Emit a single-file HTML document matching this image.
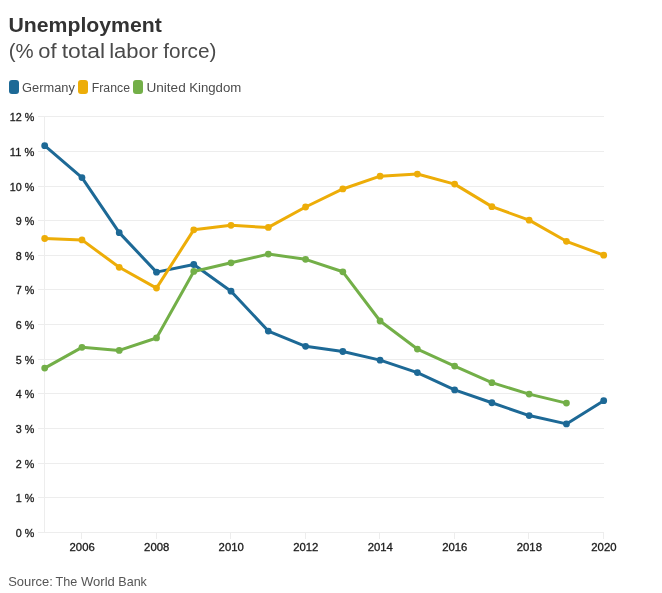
<!DOCTYPE html>
<html><head><meta charset="utf-8"><title>Unemployment</title>
<style>html,body{margin:0;padding:0;background:#fff}svg{display:block;will-change:transform}text{font-family:"Liberation Sans",sans-serif}</style></head><body>
<svg width="662" height="593" viewBox="0 0 662 593">
<rect width="662" height="593" fill="#fff"/>
<text y="31.7" font-size="20" font-weight="bold" fill="#333"><tspan x="8.47" textLength="153.36" lengthAdjust="spacingAndGlyphs">Unemployment</tspan></text>
<text y="57.6" font-size="20" fill="#4a4a4a"><tspan x="8.73" textLength="24.89" lengthAdjust="spacingAndGlyphs">(%</tspan> <tspan x="38.34" textLength="18.29" lengthAdjust="spacingAndGlyphs">of</tspan> <tspan x="61.71" textLength="43.29" lengthAdjust="spacingAndGlyphs">total</tspan> <tspan x="109.19" textLength="49.01" lengthAdjust="spacingAndGlyphs">labor</tspan> <tspan x="163.34" textLength="53.06" lengthAdjust="spacingAndGlyphs">force)</tspan></text>
<text y="91.6" font-size="12" fill="#4d4d4d"><tspan x="22.13" textLength="52.79" lengthAdjust="spacingAndGlyphs">Germany</tspan></text>
<text y="91.6" font-size="12" fill="#4d4d4d"><tspan x="91.78" textLength="38.22" lengthAdjust="spacingAndGlyphs">France</tspan></text>
<text y="91.6" font-size="12" fill="#4d4d4d"><tspan x="146.41" textLength="39.31" lengthAdjust="spacingAndGlyphs">United</tspan> <tspan x="189.2" textLength="52.13" lengthAdjust="spacingAndGlyphs">Kingdom</tspan></text>
<text y="585.6" font-size="12.6" fill="#555"><tspan x="8.16" textLength="44.63" lengthAdjust="spacingAndGlyphs">Source:</tspan> <tspan x="55.55" textLength="21.73" lengthAdjust="spacingAndGlyphs">The</tspan> <tspan x="80.97" textLength="33.86" lengthAdjust="spacingAndGlyphs">World</tspan> <tspan x="118.3" textLength="28.59" lengthAdjust="spacingAndGlyphs">Bank</tspan></text>
<rect x="9" y="80" width="10" height="14" rx="3" fill="#1d6996"/>
<rect x="78" y="80" width="10" height="14" rx="3" fill="#edad08"/>
<rect x="133" y="80" width="10" height="14" rx="3" fill="#73af48"/>
<line x1="38" x2="604" y1="532.50" y2="532.50" stroke="#ededed" stroke-width="1" shape-rendering="crispEdges"/>
<text x="15.799999999999997" y="537.00" font-size="10.6" fill="#1c1c1c" stroke="#1c1c1c" stroke-width="0.3" textLength="18.5" lengthAdjust="spacingAndGlyphs">0 %</text>
<line x1="38" x2="604" y1="497.50" y2="497.50" stroke="#ededed" stroke-width="1" shape-rendering="crispEdges"/>
<text x="15.799999999999997" y="502.00" font-size="10.6" fill="#1c1c1c" stroke="#1c1c1c" stroke-width="0.3" textLength="18.5" lengthAdjust="spacingAndGlyphs">1 %</text>
<line x1="38" x2="604" y1="463.50" y2="463.50" stroke="#ededed" stroke-width="1" shape-rendering="crispEdges"/>
<text x="15.799999999999997" y="468.00" font-size="10.6" fill="#1c1c1c" stroke="#1c1c1c" stroke-width="0.3" textLength="18.5" lengthAdjust="spacingAndGlyphs">2 %</text>
<line x1="38" x2="604" y1="428.50" y2="428.50" stroke="#ededed" stroke-width="1" shape-rendering="crispEdges"/>
<text x="15.799999999999997" y="433.00" font-size="10.6" fill="#1c1c1c" stroke="#1c1c1c" stroke-width="0.3" textLength="18.5" lengthAdjust="spacingAndGlyphs">3 %</text>
<line x1="38" x2="604" y1="393.50" y2="393.50" stroke="#ededed" stroke-width="1" shape-rendering="crispEdges"/>
<text x="15.799999999999997" y="398.00" font-size="10.6" fill="#1c1c1c" stroke="#1c1c1c" stroke-width="0.3" textLength="18.5" lengthAdjust="spacingAndGlyphs">4 %</text>
<line x1="38" x2="604" y1="359.50" y2="359.50" stroke="#ededed" stroke-width="1" shape-rendering="crispEdges"/>
<text x="15.799999999999997" y="364.00" font-size="10.6" fill="#1c1c1c" stroke="#1c1c1c" stroke-width="0.3" textLength="18.5" lengthAdjust="spacingAndGlyphs">5 %</text>
<line x1="38" x2="604" y1="324.50" y2="324.50" stroke="#ededed" stroke-width="1" shape-rendering="crispEdges"/>
<text x="15.799999999999997" y="329.00" font-size="10.6" fill="#1c1c1c" stroke="#1c1c1c" stroke-width="0.3" textLength="18.5" lengthAdjust="spacingAndGlyphs">6 %</text>
<line x1="38" x2="604" y1="289.50" y2="289.50" stroke="#ededed" stroke-width="1" shape-rendering="crispEdges"/>
<text x="15.799999999999997" y="294.00" font-size="10.6" fill="#1c1c1c" stroke="#1c1c1c" stroke-width="0.3" textLength="18.5" lengthAdjust="spacingAndGlyphs">7 %</text>
<line x1="38" x2="604" y1="255.50" y2="255.50" stroke="#ededed" stroke-width="1" shape-rendering="crispEdges"/>
<text x="15.799999999999997" y="260.00" font-size="10.6" fill="#1c1c1c" stroke="#1c1c1c" stroke-width="0.3" textLength="18.5" lengthAdjust="spacingAndGlyphs">8 %</text>
<line x1="38" x2="604" y1="220.50" y2="220.50" stroke="#ededed" stroke-width="1" shape-rendering="crispEdges"/>
<text x="15.799999999999997" y="225.00" font-size="10.6" fill="#1c1c1c" stroke="#1c1c1c" stroke-width="0.3" textLength="18.5" lengthAdjust="spacingAndGlyphs">9 %</text>
<line x1="38" x2="604" y1="186.50" y2="186.50" stroke="#ededed" stroke-width="1" shape-rendering="crispEdges"/>
<text x="9.799999999999997" y="191.00" font-size="10.6" fill="#1c1c1c" stroke="#1c1c1c" stroke-width="0.3" textLength="24.5" lengthAdjust="spacingAndGlyphs">10 %</text>
<line x1="38" x2="604" y1="151.50" y2="151.50" stroke="#ededed" stroke-width="1" shape-rendering="crispEdges"/>
<text x="9.799999999999997" y="156.00" font-size="10.6" fill="#1c1c1c" stroke="#1c1c1c" stroke-width="0.3" textLength="24.5" lengthAdjust="spacingAndGlyphs">11 %</text>
<line x1="38" x2="604" y1="116.50" y2="116.50" stroke="#ededed" stroke-width="1" shape-rendering="crispEdges"/>
<text x="9.799999999999997" y="121.00" font-size="10.6" fill="#1c1c1c" stroke="#1c1c1c" stroke-width="0.3" textLength="24.5" lengthAdjust="spacingAndGlyphs">12 %</text>
<line x1="44.5" x2="44.5" y1="116" y2="533" stroke="#ededed" stroke-width="1" shape-rendering="crispEdges"/>
<line x1="81.77" x2="81.77" y1="532" y2="538.5" stroke="#ededed" stroke-width="1" shape-rendering="crispEdges"/>
<text x="69.57" y="550.8" font-size="10.6" fill="#1c1c1c" stroke="#1c1c1c" stroke-width="0.3" textLength="25.2" lengthAdjust="spacingAndGlyphs">2006</text>
<line x1="156.30" x2="156.30" y1="532" y2="538.5" stroke="#ededed" stroke-width="1" shape-rendering="crispEdges"/>
<text x="144.10" y="550.8" font-size="10.6" fill="#1c1c1c" stroke="#1c1c1c" stroke-width="0.3" textLength="25.2" lengthAdjust="spacingAndGlyphs">2008</text>
<line x1="230.83" x2="230.83" y1="532" y2="538.5" stroke="#ededed" stroke-width="1" shape-rendering="crispEdges"/>
<text x="218.63" y="550.8" font-size="10.6" fill="#1c1c1c" stroke="#1c1c1c" stroke-width="0.3" textLength="25.2" lengthAdjust="spacingAndGlyphs">2010</text>
<line x1="305.37" x2="305.37" y1="532" y2="538.5" stroke="#ededed" stroke-width="1" shape-rendering="crispEdges"/>
<text x="293.17" y="550.8" font-size="10.6" fill="#1c1c1c" stroke="#1c1c1c" stroke-width="0.3" textLength="25.2" lengthAdjust="spacingAndGlyphs">2012</text>
<line x1="379.90" x2="379.90" y1="532" y2="538.5" stroke="#ededed" stroke-width="1" shape-rendering="crispEdges"/>
<text x="367.70" y="550.8" font-size="10.6" fill="#1c1c1c" stroke="#1c1c1c" stroke-width="0.3" textLength="25.2" lengthAdjust="spacingAndGlyphs">2014</text>
<line x1="454.43" x2="454.43" y1="532" y2="538.5" stroke="#ededed" stroke-width="1" shape-rendering="crispEdges"/>
<text x="442.23" y="550.8" font-size="10.6" fill="#1c1c1c" stroke="#1c1c1c" stroke-width="0.3" textLength="25.2" lengthAdjust="spacingAndGlyphs">2016</text>
<line x1="528.97" x2="528.97" y1="532" y2="538.5" stroke="#ededed" stroke-width="1" shape-rendering="crispEdges"/>
<text x="516.77" y="550.8" font-size="10.6" fill="#1c1c1c" stroke="#1c1c1c" stroke-width="0.3" textLength="25.2" lengthAdjust="spacingAndGlyphs">2018</text>
<line x1="603.50" x2="603.50" y1="532" y2="538.5" stroke="#ededed" stroke-width="1" shape-rendering="crispEdges"/>
<text x="591.30" y="550.8" font-size="10.6" fill="#1c1c1c" stroke="#1c1c1c" stroke-width="0.3" textLength="25.2" lengthAdjust="spacingAndGlyphs">2020</text>
<polyline points="44.70,145.66 81.97,177.54 119.23,232.63 156.50,272.13 193.77,264.51 231.03,291.19 268.30,331.04 305.57,346.28 342.83,351.48 380.10,360.14 417.37,372.62 454.63,389.94 491.90,402.76 529.17,415.58 566.43,423.90 603.70,400.68" fill="none" stroke="#1d6996" stroke-width="3" stroke-linejoin="round" stroke-linecap="round"/>
<circle cx="44.70" cy="145.66" r="3.4" fill="#1d6996"/>
<circle cx="81.97" cy="177.54" r="3.4" fill="#1d6996"/>
<circle cx="119.23" cy="232.63" r="3.4" fill="#1d6996"/>
<circle cx="156.50" cy="272.13" r="3.4" fill="#1d6996"/>
<circle cx="193.77" cy="264.51" r="3.4" fill="#1d6996"/>
<circle cx="231.03" cy="291.19" r="3.4" fill="#1d6996"/>
<circle cx="268.30" cy="331.04" r="3.4" fill="#1d6996"/>
<circle cx="305.57" cy="346.28" r="3.4" fill="#1d6996"/>
<circle cx="342.83" cy="351.48" r="3.4" fill="#1d6996"/>
<circle cx="380.10" cy="360.14" r="3.4" fill="#1d6996"/>
<circle cx="417.37" cy="372.62" r="3.4" fill="#1d6996"/>
<circle cx="454.63" cy="389.94" r="3.4" fill="#1d6996"/>
<circle cx="491.90" cy="402.76" r="3.4" fill="#1d6996"/>
<circle cx="529.17" cy="415.58" r="3.4" fill="#1d6996"/>
<circle cx="566.43" cy="423.90" r="3.4" fill="#1d6996"/>
<circle cx="603.70" cy="400.68" r="3.4" fill="#1d6996"/>
<polyline points="44.70,238.52 81.97,239.91 119.23,267.28 156.50,288.07 193.77,229.86 231.03,225.35 268.30,227.43 305.57,206.99 342.83,188.97 380.10,176.15 417.37,174.07 454.63,184.12 491.90,206.64 529.17,220.16 566.43,241.29 603.70,255.15" fill="none" stroke="#edad08" stroke-width="3" stroke-linejoin="round" stroke-linecap="round"/>
<circle cx="44.70" cy="238.52" r="3.4" fill="#edad08"/>
<circle cx="81.97" cy="239.91" r="3.4" fill="#edad08"/>
<circle cx="119.23" cy="267.28" r="3.4" fill="#edad08"/>
<circle cx="156.50" cy="288.07" r="3.4" fill="#edad08"/>
<circle cx="193.77" cy="229.86" r="3.4" fill="#edad08"/>
<circle cx="231.03" cy="225.35" r="3.4" fill="#edad08"/>
<circle cx="268.30" cy="227.43" r="3.4" fill="#edad08"/>
<circle cx="305.57" cy="206.99" r="3.4" fill="#edad08"/>
<circle cx="342.83" cy="188.97" r="3.4" fill="#edad08"/>
<circle cx="380.10" cy="176.15" r="3.4" fill="#edad08"/>
<circle cx="417.37" cy="174.07" r="3.4" fill="#edad08"/>
<circle cx="454.63" cy="184.12" r="3.4" fill="#edad08"/>
<circle cx="491.90" cy="206.64" r="3.4" fill="#edad08"/>
<circle cx="529.17" cy="220.16" r="3.4" fill="#edad08"/>
<circle cx="566.43" cy="241.29" r="3.4" fill="#edad08"/>
<circle cx="603.70" cy="255.15" r="3.4" fill="#edad08"/>
<polyline points="44.70,368.11 81.97,347.32 119.23,350.44 156.50,337.97 193.77,271.44 231.03,262.78 268.30,254.11 305.57,259.31 342.83,271.79 380.10,320.99 417.37,349.06 454.63,366.03 491.90,382.67 529.17,394.10 566.43,403.11" fill="none" stroke="#73af48" stroke-width="3" stroke-linejoin="round" stroke-linecap="round"/>
<circle cx="44.70" cy="368.11" r="3.4" fill="#73af48"/>
<circle cx="81.97" cy="347.32" r="3.4" fill="#73af48"/>
<circle cx="119.23" cy="350.44" r="3.4" fill="#73af48"/>
<circle cx="156.50" cy="337.97" r="3.4" fill="#73af48"/>
<circle cx="193.77" cy="271.44" r="3.4" fill="#73af48"/>
<circle cx="231.03" cy="262.78" r="3.4" fill="#73af48"/>
<circle cx="268.30" cy="254.11" r="3.4" fill="#73af48"/>
<circle cx="305.57" cy="259.31" r="3.4" fill="#73af48"/>
<circle cx="342.83" cy="271.79" r="3.4" fill="#73af48"/>
<circle cx="380.10" cy="320.99" r="3.4" fill="#73af48"/>
<circle cx="417.37" cy="349.06" r="3.4" fill="#73af48"/>
<circle cx="454.63" cy="366.03" r="3.4" fill="#73af48"/>
<circle cx="491.90" cy="382.67" r="3.4" fill="#73af48"/>
<circle cx="529.17" cy="394.10" r="3.4" fill="#73af48"/>
<circle cx="566.43" cy="403.11" r="3.4" fill="#73af48"/>
</svg></body></html>
